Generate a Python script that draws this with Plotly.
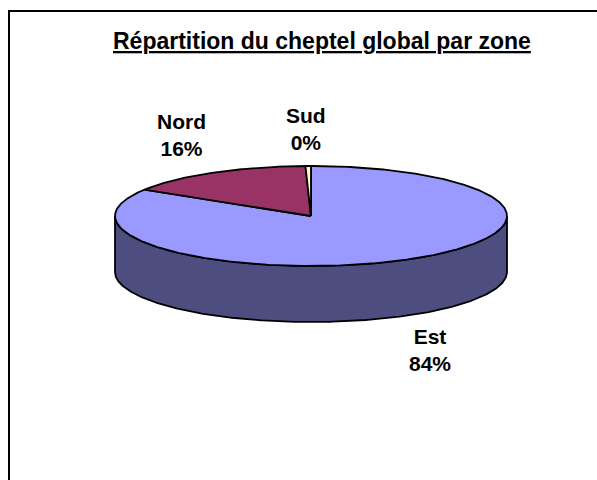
import numpy as np
import plotly.graph_objects as go

zones = ["Est", "Nord", "Sud"]
cheptel = [83.8, 15.7, 0.45]
top_colors = ["#9999FF", "#993366", "#FFFFCC"]
side_colors = ["#4D4D80", "#4D1A33", "#808066"]
chart_title = "Répartition du cheptel global par zone"

W, H = 597, 480
CX, CY, RX, RY, DEPTH = 311, 216, 196, 50, 56
label_pos = {"Est": (430, 350), "Nord": (181, 135), "Sud": (306, 129)}

shares = np.array(cheptel) / sum(cheptel)
edges = np.concatenate([[0], np.cumsum(shares) * 360])


def rim(a0, a1, dy=0):
    t = np.radians(np.linspace(a0, a1, max(int(abs(a1 - a0) * 2), 2)))
    return CX + RX * np.sin(t), CY - RY * np.cos(t) + dy


fig = go.Figure()
line = dict(color="black", width=1.8)

for i in range(len(zones)):
    a0, a1 = max(edges[i], 90), min(edges[i + 1], 270)
    if a1 > a0:
        xa, ya = rim(a0, a1)
        xb, yb = rim(a1, a0, DEPTH)
        fig.add_trace(go.Scatter(x=np.r_[xa, xb, xa[0]], y=np.r_[ya, yb, ya[0]], mode="lines",
                                 fill="toself", fillcolor=side_colors[i], line=line, hoverinfo="skip"))

for i, z in enumerate(zones):
    xa, ya = rim(edges[i], edges[i + 1])
    fig.add_trace(go.Scatter(x=np.r_[CX, xa, CX], y=np.r_[CY, ya, CY], mode="lines", name=z,
                             fill="toself", fillcolor=top_colors[i], line=line, hoverinfo="skip"))

for z, s in zip(zones, shares):
    lx, ly = label_pos[z]
    fig.add_annotation(x=lx, y=ly, text=f"<b>{z}<br>{s * 100:.0f}%</b>", showarrow=False,
                       font=dict(family="Liberation Sans", size=21, color="black"))

fig.add_annotation(x=322, y=41, text=f"<b><u>{chart_title}</u></b>", showarrow=False,
                   font=dict(family="Liberation Sans", size=23, color="black"))

fig.add_shape(type="line", x0=9, x1=9, y0=11, y1=H, line=dict(color="black", width=2))
fig.add_shape(type="line", x0=8, x1=W, y0=11, y1=11, line=dict(color="black", width=2))

fig.update_layout(width=W, height=H, margin=dict(l=0, r=0, t=0, b=0), showlegend=False,
                  paper_bgcolor="white", plot_bgcolor="white",
                  xaxis=dict(range=[0, W], visible=False, fixedrange=True),
                  yaxis=dict(range=[H, 0], visible=False, fixedrange=True))
fig.write_html("out.html", config={"displayModeBar": False},
               post_script="document.body.style.margin='0';document.documentElement.style.overflow='hidden';")
